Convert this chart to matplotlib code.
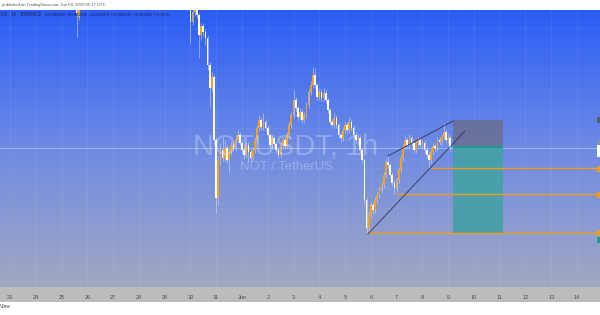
import numpy as np
import pandas as pd
import matplotlib
matplotlib.use("Agg")
import matplotlib.pyplot as plt
import matplotlib.dates as mdates
import matplotlib.transforms as mtransforms
from matplotlib.patches import Rectangle
from matplotlib import font_manager

# ---------------- data (NOT/USDT; prices in micro-USDT) -------------
candle_start = "2025-05-29 18:00"   # 2-hour candles
opens = [2516, 2506, 2496, 2486, 2452, 2472, 2480, 2466, 2426, 2444, 2432, 2420, 2366, 2320, 2342, 2216,
         2100, 2176, 2196, 2180, 2200, 2176, 2192, 2206, 2200, 2216, 2226, 2210, 2196, 2186, 2206, 2192,
         2180, 2196, 2216, 2240, 2256, 2242, 2252, 2240, 2226, 2206, 2220, 2208, 2196, 2186, 2206, 2216,
         2204, 2226, 2246, 2266, 2296, 2280, 2262, 2272, 2256, 2266, 2286, 2312, 2326, 2346, 2326, 2302,
         2312, 2300, 2310, 2296, 2276, 2252, 2246, 2260, 2246, 2226, 2220, 2236, 2246, 2236, 2252, 2240,
         2226, 2216, 2220, 2196, 2176, 2096, 2040, 2066, 2086, 2076, 2096, 2106, 2116, 2126, 2146, 2172,
         2166, 2146, 2130, 2120, 2136, 2156, 2180, 2202, 2216, 2206, 2220, 2210, 2196, 2210, 2216, 2206,
         2210, 2196, 2186, 2176, 2192, 2204, 2200, 2216, 2212, 2222, 2232, 2216, 2220]
highs = [2522, 2512, 2500, 2492, 2480, 2490, 2486, 2470, 2450, 2450, 2438, 2424, 2372, 2352, 2346, 2222,
         2184, 2210, 2222, 2216, 2206, 2198, 2212, 2212, 2226, 2236, 2232, 2216, 2202, 2212, 2212, 2198,
         2202, 2222, 2246, 2266, 2262, 2270, 2258, 2246, 2230, 2226, 2226, 2214, 2202, 2212, 2222, 2222,
         2232, 2252, 2272, 2316, 2302, 2286, 2280, 2278, 2272, 2292, 2318, 2334, 2362, 2360, 2330, 2318,
         2318, 2320, 2316, 2300, 2280, 2258, 2270, 2266, 2250, 2232, 2242, 2252, 2252, 2262, 2258, 2246,
         2232, 2228, 2226, 2200, 2180, 2100, 2072, 2092, 2092, 2102, 2112, 2122, 2132, 2152, 2178, 2184,
         2170, 2152, 2136, 2142, 2162, 2186, 2208, 2226, 2222, 2228, 2226, 2216, 2216, 2222, 2222, 2216,
         2216, 2202, 2192, 2198, 2210, 2210, 2222, 2222, 2228, 2250, 2238, 2228, 2226]
lows = [2500, 2490, 2480, 2410, 2446, 2466, 2460, 2380, 2416, 2424, 2406, 2356, 2282, 2312, 2206, 2070,
        2086, 2166, 2174, 2172, 2170, 2150, 2186, 2194, 2194, 2210, 2204, 2190, 2178, 2180, 2172, 2172,
        2176, 2190, 2210, 2234, 2236, 2236, 2234, 2220, 2200, 2200, 2202, 2190, 2180, 2182, 2200, 2198,
        2200, 2220, 2240, 2260, 2274, 2256, 2256, 2250, 2250, 2260, 2280, 2306, 2320, 2320, 2296, 2296,
        2294, 2294, 2290, 2270, 2246, 2240, 2240, 2240, 2220, 2212, 2214, 2230, 2230, 2230, 2234, 2220,
        2210, 2208, 2190, 2170, 2088, 2030, 2030, 2060, 2070, 2070, 2090, 2100, 2110, 2120, 2140, 2160,
        2140, 2124, 2108, 2114, 2130, 2150, 2174, 2196, 2200, 2200, 2204, 2190, 2190, 2204, 2200, 2200,
        2190, 2180, 2160, 2170, 2186, 2194, 2194, 2206, 2206, 2216, 2210, 2210, 2194]
closes = [2506, 2496, 2486, 2452, 2472, 2480, 2466, 2426, 2444, 2432, 2420, 2366, 2320, 2342, 2216, 2100,
          2176, 2196, 2180, 2200, 2176, 2192, 2206, 2200, 2216, 2226, 2210, 2196, 2186, 2206, 2192, 2180,
          2196, 2216, 2240, 2256, 2242, 2252, 2240, 2226, 2206, 2220, 2208, 2196, 2186, 2206, 2216, 2204,
          2226, 2246, 2266, 2296, 2280, 2262, 2272, 2256, 2266, 2286, 2312, 2326, 2346, 2326, 2302, 2312,
          2300, 2310, 2296, 2276, 2252, 2246, 2260, 2246, 2226, 2220, 2236, 2246, 2236, 2252, 2240, 2226,
          2216, 2220, 2196, 2176, 2096, 2040, 2066, 2086, 2076, 2096, 2106, 2116, 2126, 2146, 2172, 2166,
          2146, 2130, 2120, 2136, 2156, 2180, 2202, 2216, 2206, 2220, 2210, 2196, 2210, 2216, 2206, 2210,
          2196, 2186, 2176, 2192, 2204, 2200, 2216, 2212, 2222, 2232, 2216, 2220, 2200]

# two May-25 candles whose wicks reach into the view
early_times = ["2025-05-25 14:00", "2025-05-25 16:00"]
early_open = [2510, 2462]
early_high = [2540, 2520]
early_low = [2422, 2456]
early_close = [2470, 2500]

last_price = 2200
support_levels = [2160, 2108, 2030]
support_from = ["2025-06-08 08:00", "2025-06-06 23:30", "2025-06-05 21:20"]

wedge_upper_t = ["2025-06-06 16:00", "2025-06-09 04:30"]
wedge_upper_p = [2184, 2254]
wedge_lower_t = ["2025-06-05 21:20", "2025-06-09 15:40"]
wedge_lower_p = [2028, 2234]

pos_t = ["2025-06-09 04:30", "2025-06-11 02:40"]
pos_stop, pos_entry, pos_target = 2256, 2204, 2030

day_ticks = ["2025-05-23", "2025-05-24", "2025-05-25", "2025-05-26", "2025-05-27", "2025-05-28",
             "2025-05-29", "2025-05-30", "2025-05-31", "2025-06-01", "2025-06-02", "2025-06-03",
             "2025-06-04", "2025-06-05", "2025-06-06", "2025-06-07", "2025-06-08", "2025-06-09",
             "2025-06-10", "2025-06-11", "2025-06-12", "2025-06-13", "2025-06-14"]
day_labels = ["23", "24", "25", "26", "27", "28", "29", "30", "31", "Jun", "2", "3", "4", "5", "6",
              "7", "8", "9", "10", "11", "12", "13", "14"]

U = 1e-6  # micro-USDT -> USDT

# ---------------- figure -------------
W, H = 600, 315
fig = plt.figure(figsize=(6, 3.15), dpi=100)
fig.patch.set_facecolor("white")

def fy(px):  # figure fraction from top pixel
    return 1 - px / H

names = {f.name for f in font_manager.fontManager.ttflist}
if "Liberation Sans Narrow" in names:
    wm_family, wm_stretch = ["Liberation Sans Narrow"], "normal"
else:
    wm_family, wm_stretch = ["Liberation Sans", "DejaVu Sans"], "normal"
SANS = ["Liberation Sans", "DejaVu Sans"]

ax = fig.add_axes([0, fy(287), 1, (287 - 10) / H])
for s in ax.spines.values():
    s.set_visible(False)

# gradient background
stops_y = np.array([0.0, 0.5, 1.0])
stops_c = np.array([[43, 93, 246], [110, 139, 228], [163, 168, 192]]) / 255
yy = np.linspace(0, 1, 300)
grad = np.stack([np.interp(yy, stops_y, stops_c[:, k]) for k in range(3)], axis=1)
grad = np.repeat(grad[:, None, :], 2, axis=1)
ax.imshow(grad, extent=[0, 1, 0, 1], transform=ax.transAxes, aspect="auto", zorder=0, origin="upper")

t0 = mdates.date2num(pd.Timestamp("2025-05-23"))
ppd = (577 - 10) / 22.0
xmin = t0 - 10 / ppd
xmax = t0 + 590 / ppd
ymin = (2496 - 2 * 287) * U
ymax = (2496 - 2 * 10) * U
ax.set_xlim(xmin, xmax)
ax.set_ylim(ymin, ymax)

# grid
tick_nums = mdates.date2num(pd.to_datetime(day_ticks))
for xv in tick_nums:
    ax.axvline(xv, color="white", alpha=0.07, lw=0.6, zorder=1)
for pv in np.arange(1960, 2480, 40):
    ax.axhline(pv * U, color="white", alpha=0.05, lw=0.6, zorder=1)

# watermark
wm1 = fig.text(285.5 / W, fy(147), "NOTUSDT, 1h", ha="center", va="center", fontsize=25,
               family=wm_family, fontstretch=wm_stretch, color=(1, 1, 1, 0.28), zorder=2)
wm2 = fig.text(286 / W, fy(166.5), "NOT / TetherUS", ha="center", va="center", fontsize=9,
               family=SANS, color=(1, 1, 1, 0.28), zorder=2)

# last price line
ax.axhline(last_price * U, color="white", alpha=0.35, lw=0.7, zorder=2)

# candles
times = pd.date_range(candle_start, periods=len(closes), freq="2h")
tx = np.concatenate([mdates.date2num(pd.to_datetime(early_times)), mdates.date2num(times)])
o = np.array(early_open + opens) * U
h = np.array(early_high + highs) * U
l = np.array(early_low + lows) * U
c = np.array(early_close + closes) * U
up = c >= o
up_col = "#F7A21E"
down_col = "#FFFFFF"
ax.vlines(tx, l, h, colors=[(0.86, 0.88, 0.95, 0.75)], lw=0.5, zorder=3)
bw = 2 / 24 * 0.8
body_b = np.minimum(o, c)
body_h = np.maximum(np.abs(c - o), 1.0 * U)
ax.bar(tx, body_h, bottom=body_b, width=bw, color=np.where(up, up_col, down_col),
       linewidth=0, zorder=4)

# support lines
for lvl, t in zip(support_levels, support_from):
    x0 = mdates.date2num(pd.Timestamp(t))
    ax.plot([x0, xmax], [lvl * U, lvl * U], color="#F39A1C", lw=1.0, zorder=5, solid_capstyle="butt")

# wedge
ax.plot(mdates.date2num(pd.to_datetime(wedge_upper_t)), np.array(wedge_upper_p) * U,
        color="#2E3350", lw=0.7, zorder=5, alpha=0.85)
ax.plot(mdates.date2num(pd.to_datetime(wedge_lower_t)), np.array(wedge_lower_p) * U,
        color="#2E3350", lw=0.7, zorder=5, alpha=0.85)

# position tool
px0, px1 = mdates.date2num(pd.to_datetime(pos_t))
ax.add_patch(Rectangle((px0, pos_entry * U), px1 - px0, (pos_stop - pos_entry) * U,
                       facecolor="#6A7199", edgecolor="none", alpha=0.95, zorder=3))
ax.add_patch(Rectangle((px0, pos_target * U), px1 - px0, (pos_entry - pos_target) * U,
                       facecolor="#47A0A8", edgecolor="none", alpha=0.95, zorder=3))
ax.plot([px0, px1], [pos_entry * U - 2 * U] * 2, color="#1F9A8E", lw=1.6, zorder=5, solid_capstyle="butt")

# right-edge price-scale markers
btr = mtransforms.blended_transform_factory(ax.transAxes, ax.transData)
markers = [(2262, 2250, "#5A5D66"), (2216, 2206, "#8D93A6"), (2205, 2182, "#FFFFFF"),
           (2164, 2152, "#F39A1C"), (2112, 2100, "#F39A1C"), (2036, 2024, "#F39A1C"),
           (2022, 2010, "#17A08C")]
for top, bot, col in markers:
    ax.add_patch(Rectangle((0.995, bot * U), 0.006, (top - bot) * U, transform=btr,
                           facecolor=col, edgecolor="none", zorder=6, clip_on=False))

# x axis
ax.set_xticks(tick_nums)
ax.set_xticklabels(day_labels)
ax.tick_params(axis="x", length=0, pad=5.8, labelsize=4, labelcolor="#4a4a4a")
ax.set_yticks([])
for lab in ax.get_xticklabels():
    lab.set_family(SANS)

strip = Rectangle((0, fy(302)), 1, (302 - 287) / H, transform=fig.transFigure,
                  facecolor="#BCBCBC", edgecolor="none", zorder=-5)
fig.patches.append(strip)

# header texts
t_pub = fig.text(2 / W, fy(5), "published on TradingView.com, Jun 09, 2025 05:17 UTC", ha="left",
                 va="center", fontsize=3.3, color="#555555", family=SANS)
fig.text(41 / W, fy(15), "Notcoin / TetherUS · 1h · BINANCE", ha="right", va="center",
         fontsize=3.3, color="#1B2140", family=SANS, zorder=7)
t_ohlc = fig.text(45 / W, fy(15), "O0.002236  H0.002245  L0.002189  C0.002200  −0.000027 (−1.21%)",
                  ha="left", va="center", fontsize=3.3, color="#1B2140", family=SANS, zorder=7)
fig.text(0 / W, fy(306), "View", ha="left", va="center", fontsize=3.6, color="#444444", family=SANS)

# fit text widths to the reference
fig.canvas.draw()
r = fig.canvas.get_renderer()
for txt, target in [(wm1, 185), (wm2, 93), (t_pub, 108), (t_ohlc, 128)]:
    w = txt.get_window_extent(r).width
    txt.set_fontsize(txt.get_fontsize() * target / w)

fig.savefig("out.png", dpi=100)
